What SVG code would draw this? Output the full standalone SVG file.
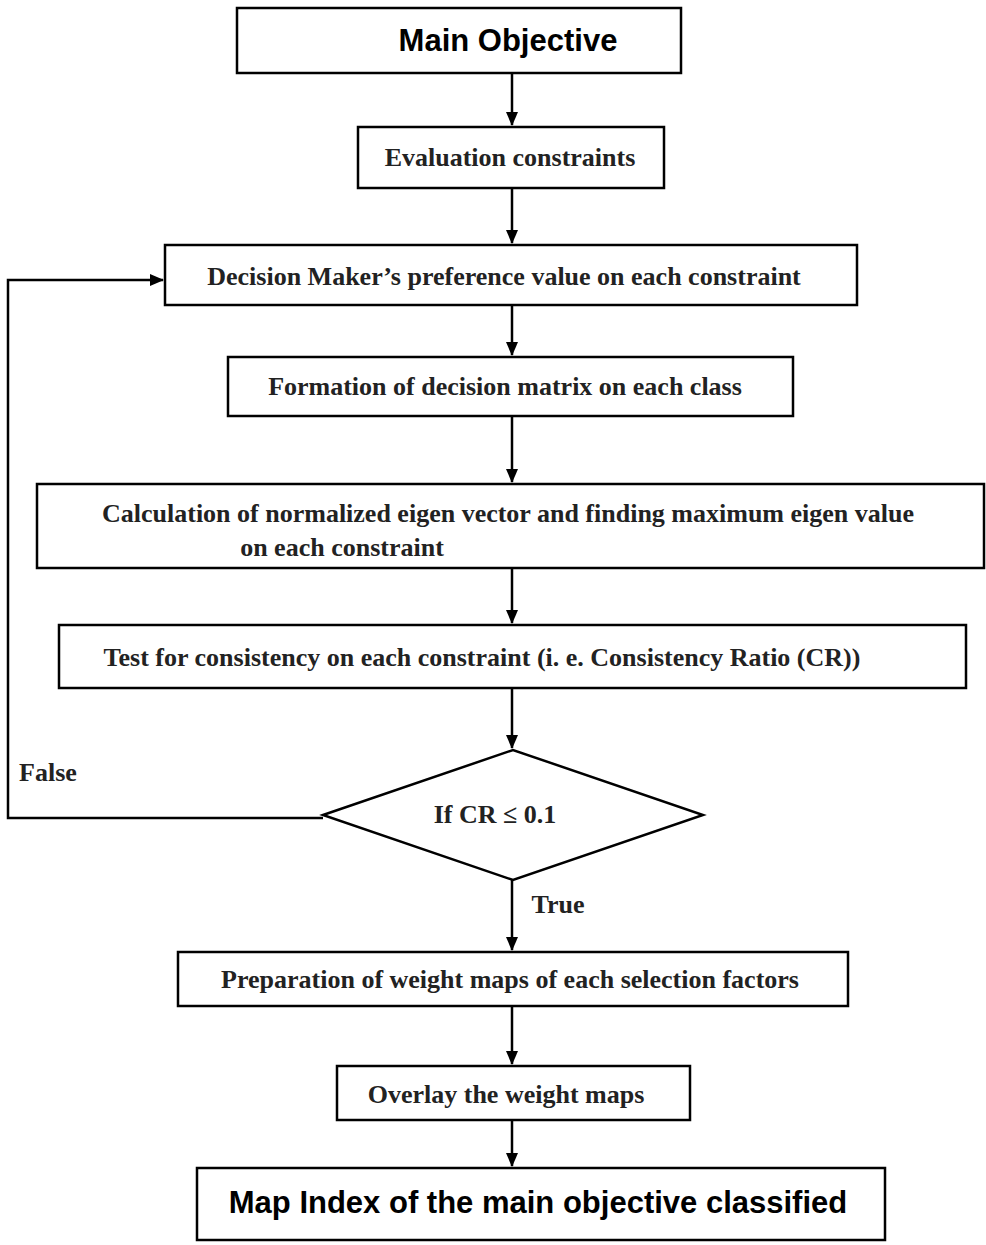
<svg xmlns="http://www.w3.org/2000/svg" width="986" height="1245" viewBox="0 0 986 1245">
<defs>
<marker id="ah" markerWidth="14" markerHeight="14" refX="13" refY="7" orient="auto" markerUnits="userSpaceOnUse"><path d="M0,1 L14,7 L0,13 z" fill="#000"/></marker>
<style>
.b{fill:#fff;stroke:#000;stroke-width:2.5}
.t{font-family:"Liberation Serif",serif;font-size:26px;font-weight:bold;fill:#222;text-anchor:middle}
.h{font-family:"Liberation Sans",sans-serif;font-size:31px;font-weight:bold;fill:#000;text-anchor:middle}
.c{stroke:#000;stroke-width:2.5;fill:none;marker-end:url(#ah)}
</style>
</defs>
<rect width="986" height="1245" fill="#fff"/>
<g id="connectors">
<path class="c" d="M512,73 V125"/>
<path class="c" d="M512,188 V243"/>
<path class="c" d="M512,305 V355"/>
<path class="c" d="M512,416 V482"/>
<path class="c" d="M512,568 V623"/>
<path class="c" d="M512,688 V748"/>
<path class="c" d="M512,880 V950"/>
<path class="c" d="M512,1006 V1064"/>
<path class="c" d="M512,1120 V1166"/>
<path class="c" d="M323,818 H8 V280 H163"/>
<text class="t" x="48" y="781">False</text>
<text class="t" x="558" y="913">True</text>
</g>
<g id="n1"><rect class="b" x="237" y="8" width="444" height="65"/><text class="h" x="508" y="51">Main Objective</text></g>
<g id="n2"><rect class="b" x="358" y="127" width="306" height="61"/><text class="t" x="510" y="166">Evaluation constraints</text></g>
<g id="n3"><rect class="b" x="165" y="245" width="692" height="60"/><text class="t" x="504" y="285">Decision Maker’s preference value on each constraint</text></g>
<g id="n4"><rect class="b" x="228" y="357" width="565" height="59"/><text class="t" x="505" y="395">Formation of decision matrix on each class</text></g>
<g id="n5"><rect class="b" x="37" y="484" width="947" height="84"/><text class="t" x="508" y="522">Calculation of normalized eigen vector and finding maximum eigen value</text><text class="t" x="342" y="556">on each constraint</text></g>
<g id="n6"><rect class="b" x="59" y="625" width="907" height="63"/><text class="t" x="482" y="666">Test for consistency on each constraint (i. e. Consistency Ratio (CR))</text></g>
<g id="n7"><polygon class="b" points="323,815 513,750 703,815 513,880"/><text class="t" x="495" y="823">If CR ≤ 0.1</text></g>
<g id="n8"><rect class="b" x="178" y="952" width="670" height="54"/><text class="t" x="510" y="988">Preparation of weight maps of each selection factors</text></g>
<g id="n9"><rect class="b" x="337" y="1066" width="353" height="54"/><text class="t" x="506" y="1103">Overlay the weight maps</text></g>
<g id="n10"><rect class="b" x="197" y="1168" width="688" height="72"/><text class="h" x="538" y="1213">Map Index of the main objective classified</text></g>
</svg>
